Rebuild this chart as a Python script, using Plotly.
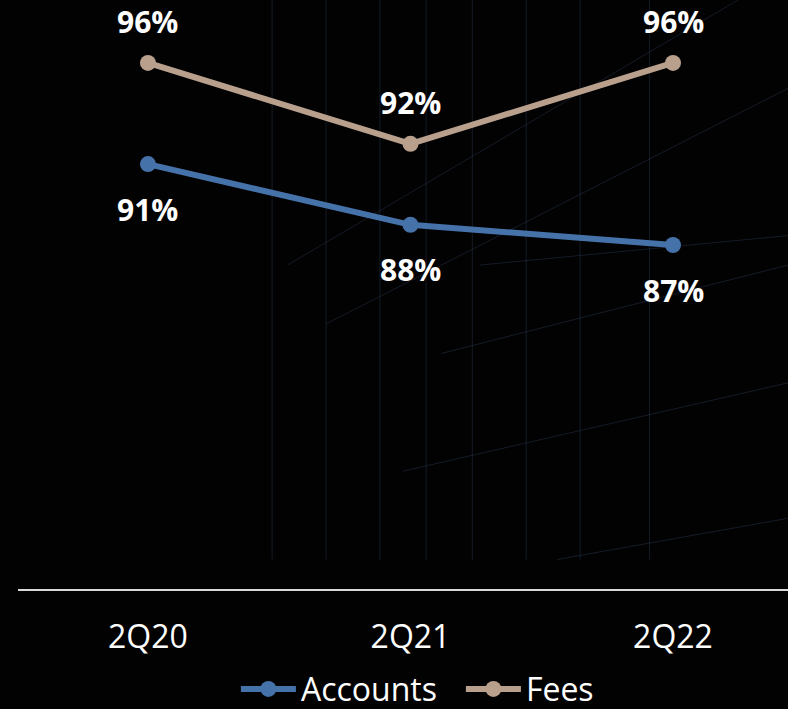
import plotly.graph_objects as go

categories = ["2Q20", "2Q21", "2Q22"]
accounts = [91, 88, 87]
fees = [96, 92, 96]

FONT = "Open Sans, Noto Sans, sans-serif"
BLUE = "#4672aa"
TAN = "#b9a08d"

fig = go.Figure()
fig.add_trace(go.Scatter(x=categories, y=accounts, name="Accounts", mode="lines+markers",
                         line=dict(color=BLUE, width=6), marker=dict(size=16, color=BLUE)))
fig.add_trace(go.Scatter(x=categories, y=fees, name="Fees", mode="lines+markers",
                         line=dict(color=TAN, width=6), marker=dict(size=16, color=TAN)))

annotations = []
for c, v in zip(categories, accounts):
    annotations.append(dict(x=c, y=v, text=f"{v}%", showarrow=False, yshift=-45,
                            font=dict(family=FONT, size=30, color="white", weight="bold")))
for c, v in zip(categories, fees):
    annotations.append(dict(x=c, y=v, text=f"{v}%", showarrow=False, yshift=41,
                            font=dict(family=FONT, size=30, color="white", weight="bold")))

# decorative faint background grid (paper coordinates)
shapes = []
grid_color = "rgba(70,95,130,0.28)"
for xv in [0.33, 0.40, 0.47, 0.53, 0.59, 0.66, 0.73, 0.82]:
    shapes.append(dict(type="line", xref="paper", yref="paper", x0=xv, x1=xv, y0=0.05, y1=1.0,
                       line=dict(color=grid_color, width=1), layer="below"))
for (x0, y0, x1, y1) in [(0.35, 0.55, 1.0, 1.05), (0.4, 0.45, 1.0, 0.85), (0.55, 0.4, 1.0, 0.55),
                         (0.6, 0.55, 1.0, 0.6), (0.5, 0.2, 1.0, 0.35), (0.7, 0.05, 1.0, 0.12)]:
    shapes.append(dict(type="line", xref="paper", yref="paper", x0=x0, x1=x1, y0=y0, y1=y1,
                       line=dict(color=grid_color, width=1), layer="below"))

fig.update_layout(
    width=788, height=709,
    margin=dict(l=18, r=0, t=0, b=120),
    paper_bgcolor="#020203", plot_bgcolor="#020203",
    font=dict(family=FONT, color="white"),
    xaxis=dict(range=[-0.495, 2.438], showgrid=False, zeroline=False, showline=True,
               linecolor="#d9d9d9", linewidth=2, ticks="", ticklabelstandoff=19,
               tickfont=dict(family=FONT, size=32, color="white"), fixedrange=True),
    yaxis=dict(range=[70, 99.11], visible=False, showgrid=False, zeroline=False, fixedrange=True),
    showlegend=True,
    legend=dict(orientation="h", x=0.283, xanchor="left", xref="paper",
                yref="container", y=0.028, yanchor="middle",
                entrywidth=155, entrywidthmode="pixels",
                font=dict(family=FONT, size=32, color="white"), itemwidth=55,
                bgcolor="rgba(0,0,0,0)"),
    annotations=annotations,
    shapes=shapes,
)

fig.write_html("out.html", config={"displayModeBar": False},
               post_script="document.body.style.margin='0';document.body.style.overflow='hidden';document.body.style.background='#020203';")
